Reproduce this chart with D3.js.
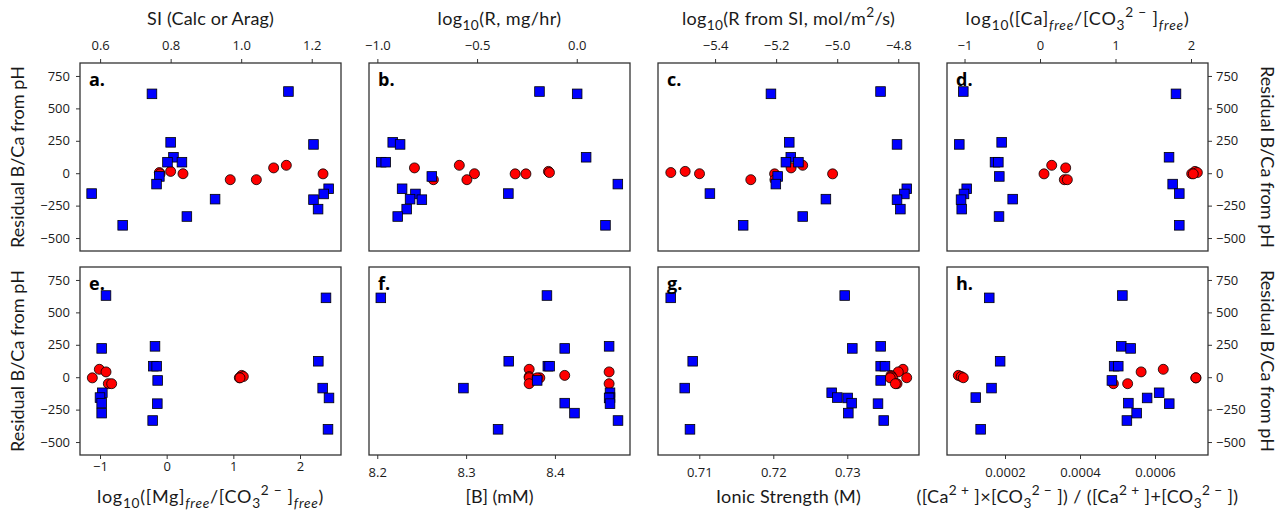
<!DOCTYPE html>
<html>
<head>
<meta charset="utf-8">
<script src="https://cdn.jsdelivr.net/npm/d3@7"></script>
<style>
  body { margin: 0; background: #fff; }
  svg { font-family: "Lato", sans-serif; }
</style>
</head>
<body>
<svg width="1287" height="513"></svg>
<script>
// residual B/Ca from pH, same points in every panel
const residBlue = [630, 612, 238, 222, 123, 85, 85, -25, -84, -120, -157, -160, -200, -204, -277, -334, -402];
const residRed = [61, 41, 14, 5, -4, -5, -5, -50, -50];

// x values per panel (blue squares / red circles)
const siBlue = [1.134, 0.747, 0.800, 1.205, 0.808, 0.791, 0.832, 0.768, 0.760, 1.248, 0.576, 1.234, 0.926, 1.205, 1.218, 0.846, 0.664];
const siRed = [1.128, 1.092, 0.800, 0.768, 0.835, 1.232, 0.770, 0.969, 1.043];

const logRBlue = [-0.187, 0.002, -0.923, -0.886, 0.047, -0.981, -0.958, -0.727, 0.206, -0.876, -0.343, -0.809, -0.836, -0.777, -0.853, -0.898, 0.144];
const logRRed = [-0.589, -0.814, -0.142, -0.137, -0.513, -0.309, -0.255, -0.719, -0.551];

const logRsiBlue = [-4.858, -5.217, -5.157, -4.804, -5.152, -5.168, -5.127, -5.195, -5.201, -4.772, -5.417, -4.780, -5.037, -4.804, -4.793, -5.113, -5.308];
const logRsiRed = [-5.113, -5.151, -5.498, -5.545, -5.451, -5.015, -5.205, -5.283, -5.204];

const logCaBlue = [-1.016, 1.801, -0.508, -1.069, 1.709, -0.596, -0.552, -0.539, 1.757, -0.971, 1.845, -1.007, -0.362, -1.046, -1.037, -0.543, 1.845];
const logCaRed = [0.155, 0.340, 2.053, 2.084, 2.009, 0.053, 2.03, 0.322, 0.362];

const logMgBlue = [-0.910, 2.39, -0.175, -0.975, 2.275, -0.20, -0.15, -0.135, 2.34, -0.965, -1.0, 2.435, -0.975, -0.14, -0.975, -0.21, 2.42];
const logMgRed = [-1.01, -0.91, 1.125, 1.15, 1.09, -1.115, 1.10, -0.875, -0.825];

const boronBlue = [8.391, 8.204, 8.461, 8.411, 8.348, 8.392, 8.394, 8.380, 8.297, 8.462, 8.462, 8.461, 8.411, 8.462, 8.422, 8.471, 8.336];
const boronRed = [8.371, 8.461, 8.411, 8.371, 8.371, 8.383, 8.38, 8.371, 8.461];

const ionicBlue = [0.72965, 0.70614, 0.73451, 0.73068, 0.70911, 0.73451, 0.73509, 0.73451, 0.70803, 0.72789, 0.72865, 0.73005, 0.73059, 0.73415, 0.73014, 0.73492, 0.70874];
const ionicRed = [0.73753, 0.73689, 0.7359, 0.7360, 0.73803, 0.7361, 0.7358, 0.73672, 0.7365];

const ratioBlue = [0.000513, 0.000158, 0.000510, 0.000535, 0.000187, 0.000491, 0.000502, 0.000485, 0.000164, 0.000611, 0.000122, 0.000579, 0.000529, 0.000638, 0.000551, 0.000525, 0.000135];
const ratioRed = [0.000622, 0.000563, 0.0000755, 0.000083, 0.0000888, 0.000709, 0.000709, 0.000489, 0.000527];

// tick labels
const yTicks = [-500, -250, 0, 250, 500, 750];
const siTicks = [0.6, 0.8, 1.0, 1.2];
const logRTicks = [-1.0, -0.5, 0.0];
const logRsiTicks = [-5.4, -5.2, -5.0, -4.8];
const logCaTicks = [-1, 0, 1, 2];
const logMgTicks = [-1, 0, 1, 2];
const boronTicks = [8.2, 8.3, 8.4];
const ionicTicks = [0.71, 0.72, 0.73];
const ratioTicks = [0.0002, 0.0004, 0.0006];

const yLabel = "Residual B/Ca from pH";

// layout
const W = 261, H = 188;
const colX = [80, 369, 658, 947], rowY = [63, 267];
const yDomain = [-600, 850];

// tw = width the title takes in the figure
const panels = [
  {id: "a.", col: 0, row: 0, xb: siBlue, xr: siRed, dom: [0.543, 1.283], ticks: siTicks, fmt: ".1f", yAxis: "left",
   tw: 127, title: ["SI (Calc or Arag)"]},
  {id: "b.", col: 1, row: 0, xb: logRBlue, xr: logRRed, dom: [-1.042, 0.267], ticks: logRTicks, fmt: ".1f",
   tw: 124, title: ["log", ["10", "sub"], "(R, mg/hr)"]},
  {id: "c.", col: 2, row: 0, xb: logRsiBlue, xr: logRsiRed, dom: [-5.587, -4.732], ticks: logRsiTicks, fmt: ".1f",
   tw: 213, title: ["log", ["10", "sub"], "(R from SI, mol/m", ["2", "sup"], "/s)"]},
  {id: "d.", col: 3, row: 0, xb: logCaBlue, xr: logCaRed, dom: [-1.232, 2.225], ticks: logCaTicks, fmt: "d", yAxis: "right",
   tw: 224, title: ["log", ["10", "sub"], "([Ca]", ["free", "sub it"], "/[CO", ["3", "sub"], ["2 \u2212", "sup"], " ]", ["free", "sub it"], ")"]},
  {id: "e.", col: 0, row: 1, xb: logMgBlue, xr: logMgRed, dom: [-1.3, 2.615], ticks: logMgTicks, fmt: "d", yAxis: "left", tickPad: 3,
   tw: 227, title: ["log", ["10", "sub"], "([Mg]", ["free", "sub it"], "/[CO", ["3", "sub"], ["2 \u2212", "sup"], " ]", ["free", "sub it"], ")"]},
  {id: "f.", col: 1, row: 1, xb: boronBlue, xr: boronRed, dom: [8.1907, 8.4845], ticks: boronTicks, fmt: ".1f",
   tw: 68, title: ["[B] (mM)"]},
  {id: "g.", col: 2, row: 1, xb: ionicBlue, xr: ionicRed, dom: [0.70442, 0.73969], ticks: ionicTicks, fmt: ".2f",
   tw: 145, title: ["Ionic Strength (M)"]},
  {id: "h.", col: 3, row: 1, xb: ratioBlue, xr: ratioRed, dom: [0.0000453, 0.0007413], ticks: ratioTicks, fmt: ".4f", yAxis: "right",
   tw: 322, title: ["([Ca", ["2 +", "sup"], " ]\u00d7[CO", ["3", "sub"], ["2 \u2212", "sup"], " ]) / ([Ca", ["2 +", "sup"], " ]+[CO", ["3", "sub"], ["2 \u2212", "sup"], " ])"]}
];

const svg = d3.select("svg");
const ink = "#1a1a1a";
const titleSize = 18;

// text with sub/superscripts
function rich(text, parts, fs) {
  let off = 0;
  parts.forEach(p => {
    const [str, kind] = typeof p === "string" ? [p, ""] : p;
    let target = 0, size = fs;
    if (kind.includes("sub")) { target = fs * 0.28; size = fs * 0.76; }
    if (kind.includes("sup")) { target = -fs * 0.42; size = fs * 0.76; }
    text.append("tspan")
      .attr("dy", target - off)
      .attr("font-size", size)
      .attr("font-style", kind.includes("it") ? "italic" : null)
      .text(str);
    off = target;
  });
}

// spread letters so the text spans the width it has in the figure
function fit(text, width) {
  const node = text.node();
  const n = node.textContent.length;
  const natural = node.getComputedTextLength();
  text.attr("letter-spacing", ((width - natural) / n).toFixed(3));
}

const y = d3.scaleLinear().domain(yDomain).range([H, 0]);

panels.forEach(p => {
  const g = svg.append("g").attr("transform", `translate(${colX[p.col]},${rowY[p.row]})`);
  const x = d3.scaleLinear().domain(p.dom).range([0, W]);

  // x axis: top row on top, bottom row below
  const xAxis = (p.row === 0 ? d3.axisTop(x) : d3.axisBottom(x))
    .tickValues(p.ticks).tickFormat(d3.format(p.fmt))
    .tickSize(4).tickPadding(p.row === 0 ? 9 : (p.tickPad || 9));
  const xg = g.append("g")
    .attr("transform", p.row === 0 ? null : `translate(0,${H})`)
    .call(xAxis);
  xg.select(".domain").remove();
  xg.selectAll("text").attr("font-size", 13).attr("fill", ink).attr("font-family", "Open Sans");
  xg.selectAll("line").attr("stroke", "#333");

  // axis title
  const t = g.append("text")
    .attr("x", W / 2)
    .attr("y", p.row === 0 ? -38 : H + 48)
    .attr("text-anchor", "middle")
    .attr("fill", ink)
    .attr("font-size", titleSize);
  rich(t, p.title, titleSize);
  fit(t, p.tw);

  // y axis
  if (p.yAxis) {
    const left = p.yAxis === "left";
    const ya = (left ? d3.axisLeft(y) : d3.axisRight(y))
      .tickValues(yTicks).tickFormat(d3.format("d"))
      .tickSize(4).tickPadding(left ? 6 : 4);
    const yg = g.append("g").attr("transform", left ? null : `translate(${W},0)`).call(ya);
    yg.select(".domain").remove();
    yg.selectAll("text").attr("font-size", 13).attr("fill", ink).attr("font-family", "Open Sans");
    yg.selectAll("line").attr("stroke", "#333");
    const lx = left ? -62 : W + 59;
    const yl = g.append("text")
      .attr("transform", `translate(${lx},${H / 2}) rotate(${left ? -90 : 90})`)
      .attr("text-anchor", "middle")
      .attr("dy", "0.35em")
      .attr("fill", ink)
      .attr("font-size", titleSize)
      .text(yLabel);
    fit(yl, 182);
  }

  // red circles first, blue squares on top
  g.selectAll(".red")
    .data(p.xr.map((v, i) => [v, residRed[i]]))
    .join("circle")
    .attr("class", "red")
    .attr("cx", d => x(d[0]))
    .attr("cy", d => y(d[1]))
    .attr("r", 5)
    .attr("fill", "#ff0000")
    .attr("stroke", "#000")
    .attr("stroke-width", 0.8);

  const s = 9.6;
  g.selectAll(".blue")
    .data(p.xb.map((v, i) => [v, residBlue[i]]))
    .join("rect")
    .attr("class", "blue")
    .attr("x", d => x(d[0]) - s / 2)
    .attr("y", d => y(d[1]) - s / 2)
    .attr("width", s)
    .attr("height", s)
    .attr("fill", "#0000ff")
    .attr("stroke", "#000")
    .attr("stroke-width", 0.8);

  // frame
  g.append("rect")
    .attr("width", W).attr("height", H)
    .attr("fill", "none")
    .attr("stroke", "#333")
    .attr("stroke-width", 1.3);

  // panel letter
  g.append("text")
    .attr("x", 9).attr("y", 23)
    .attr("font-size", 18)
    .attr("font-weight", "bold")
    .attr("font-family", "Open Sans")
    .attr("fill", "#000")
    .text(p.id);
});
</script>
</body>
</html>
